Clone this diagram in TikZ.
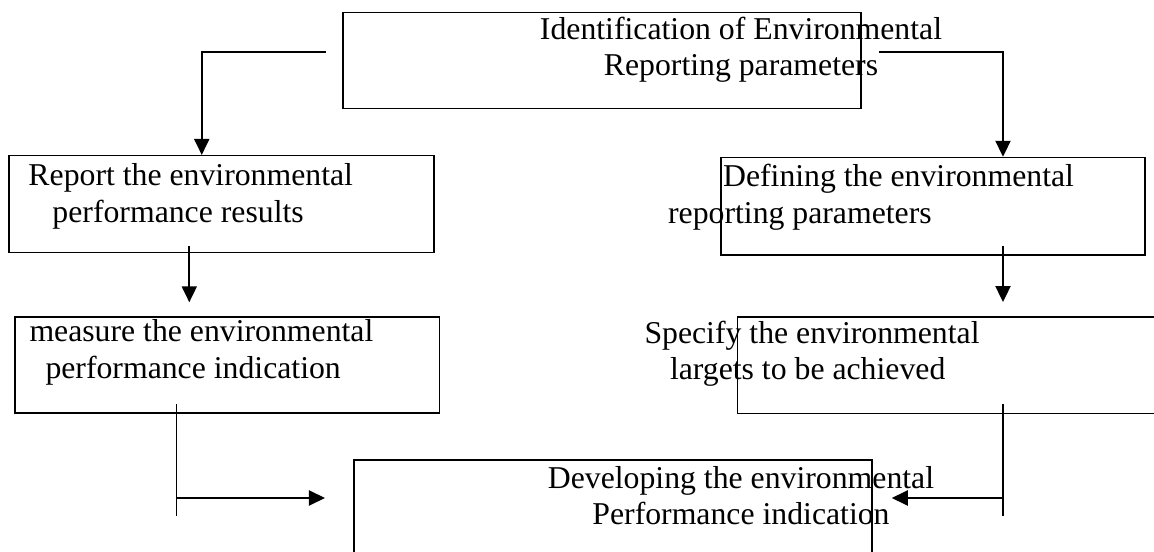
\documentclass[tikz,border=0pt]{standalone}
\usepackage{fontspec}
\setmainfont{Liberation Serif}
\usetikzlibrary{arrows.meta,calc}

\begin{document}
\begin{tikzpicture}[x=0.4pt, y=-0.4pt,
    box/.style={draw, line width=0.6pt, inner sep=0pt},
    lbl/.style={inner sep=0pt, font=\fontsize{12.7pt}{14.6pt}\selectfont},
    arrow/.style={line width=0.8pt, -{Triangle[length=6.4pt,width=6pt]}},
    tick/.style={line width=0.5pt}]
  \clip (0,0) rectangle (1154,552);
  % frames; the texts sit over them, partly outside, as in the scan
  \node[box, minimum width=207.2pt, minimum height=38.5pt] (ident) at (602,60.4) {};
  \node[box, minimum width=170pt, minimum height=38.8pt] (report) at (221.5,204.2) {};
  \node[box, minimum width=169.6pt, minimum height=39pt] (defining) at (933,206.3) {};
  \node[box, minimum width=169.7pt, minimum height=38.5pt] (measure) at (227.2,364.9) {};
  \node[box, minimum width=177.1pt, minimum height=38.5pt] (specify) at (958.7,365.2) {};
  \node[box, minimum width=207.2pt, minimum height=56pt] (develop) at (613,530) {};
  % texts (base = baseline of the last line)
  \node[lbl, align=center, anchor=base] (identtxt) at (741,75.8) {Identification of Environmental\\Reporting parameters};
  \node[lbl, align=left, anchor=base west] (reporttxt) at (28,222.5) {Report the environmental\\\hspace*{9.6pt}performance results};
  \node[lbl, align=left, anchor=base west] (definingtxt) at (667.6,223.2) {\hspace*{22pt}Defining the environmental\\reporting parameters};
  \node[lbl, align=left, anchor=base west] (measuretxt) at (29,378.2) {measure the environmental\\\hspace*{6.4pt}performance indication};
  \node[lbl, align=left, anchor=base west] (specifytxt) at (644,379.8) {Specify the environmental\\\hspace*{10.2pt}largets to be achieved};
  \node[lbl, align=center, anchor=base] (developtxt) at (741,524.5) {Developing the environmental\\Performance indication};
  % free ends of the connectors
  \coordinate (identl) at (325.7,51.7);
  \coordinate (identr) at (879,51.7);
  \coordinate (repout) at (189.3,246);
  \coordinate (defout) at (1003,245.7);
  \coordinate (lbtop) at (176.7,404);
  \coordinate (lbend) at (176.7,516);
  \coordinate (lbjoin) at (176.7,498);
  \coordinate (rbtop) at (1003,404);
  \coordinate (rbend) at (1003,516);
  \coordinate (rbjoin) at (1003,498);
  % connectors
  \draw[arrow] (identl) -| ([xshift=-7.9pt]report.north);
  \draw[arrow] (identr) -| ([xshift=28pt]defining.north);
  \draw[arrow, shorten >=5.5pt] (repout) -- (repout |- measure.north);
  \draw[arrow, shorten >=5.7pt] (defout) -- (defout |- specify.north);
  \draw[tick] (lbtop) -- (lbend);
  \draw[tick] (rbtop) -- (rbend);
  \draw[arrow, shorten >=11.3pt] (lbjoin) -- (lbjoin -| develop.west);
  \draw[arrow, shorten >=7.6pt] (rbjoin) -- (rbjoin -| develop.east);
\end{tikzpicture}
\end{document}
